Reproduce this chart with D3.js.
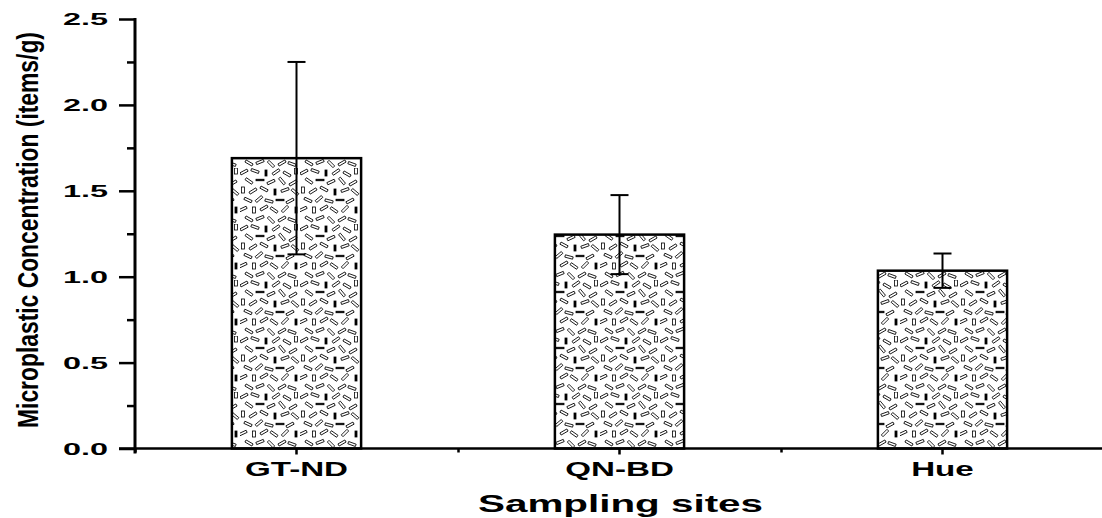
<!DOCTYPE html>
<html lang="en">
<head>
<meta charset="UTF-8">
<script src="https://d3js.org/d3.v7.min.js"></script>
<title>Microplastic Concentration</title>
<style>
  body { margin: 0; background: #fff; }
  text { font-family: "Liberation Sans", Arial, sans-serif; font-weight: bold; fill: #000; }
</style>
</head>
<body>
<svg id="chart" width="1102" height="518"></svg>
<script>
// data
const sites = ["GT-ND", "QN-BD", "Hue"];
const means = [1.69, 1.245, 1.035];
const errors = [0.56, 0.23, 0.1];
const yTicks = [0, 0.5, 1.0, 1.5, 2.0, 2.5];
const yMinorTicks = [0.25, 0.75, 1.25, 1.75, 2.25];

const svg = d3.select("#chart");

const x = d3.scaleBand().domain(sites).range([135, 1104]);
const y = d3.scaleLinear().domain([0, 2.5]).range([448.5, 19]);

// speckled fill (short dashes / little boxes) like the original
const pat = svg.append("defs").append("pattern")
    .attr("id", "speckle")
    .attr("patternUnits", "userSpaceOnUse")
    .attr("width", 60).attr("height", 56);
pat.append("rect").attr("width", 60).attr("height", 56).attr("fill", "#fff");
// [cx, cy, w, h, angle, filled]
const bits = [
    [4, 4, 8, 2.4, -28, false], [15, 3, 8, 2.4, 20, false], [26, 5, 2, 6, 0, true],
    [36, 4, 8, 2.4, -35, false], [47, 6, 8, 2.4, 30, false], [56, 3, 3, 6, 0, false],
    [9, 13, 8, 2.4, 35, false], [20, 12, 8, 1.5, 0, true], [31, 14, 8, 2.4, -25, false],
    [42, 13, 8, 2.4, 50, false], [53, 15, 8, 2.4, -30, false],
    [3, 22, 3, 6, 0, false], [13, 23, 8, 2.4, -32, false], [24, 21, 8, 2.4, 28, false],
    [35, 24, 2, 6, 0, true], [45, 22, 8, 2.4, -20, false], [55, 24, 8, 2.4, 40, false],
    [8, 32, 8, 2.4, 25, false], [19, 31, 8, 2.4, -40, false], [29, 33, 8, 2.4, 15, false],
    [40, 32, 8, 1.5, 0, true], [50, 33, 8, 2.4, -28, false],
    [3, 41, 8, 2.4, -25, false], [14, 42, 3, 6, 0, false], [24, 40, 8, 2.4, -30, false],
    [34, 42, 8, 2.4, 35, false], [45, 41, 8, 2.4, -45, false], [56, 42, 2, 6, 0, true],
    [9, 51, 8, 2.4, 30, false], [20, 50, 8, 2.4, -22, false], [31, 52, 8, 2.4, 45, false],
    [42, 51, 8, 2.4, -30, false], [52, 52, 8, 2.4, 20, false]
];
bits.forEach(b => {
    pat.append("rect")
        .attr("x", -b[2] / 2).attr("y", -b[3] / 2)
        .attr("width", b[2]).attr("height", b[3])
        .attr("transform", `translate(${b[0]},${b[1]}) rotate(${b[4]})`)
        .attr("fill", b[5] ? "#000" : "#fff")
        .attr("stroke", "#000").attr("stroke-width", 0.8);
});

// bars
const bw = x.bandwidth() * 0.4;
svg.selectAll(".bar").data(sites).join("rect")
    .attr("class", "bar")
    .attr("x", d => x(d) + x.bandwidth() / 2 - bw / 2)
    .attr("y", (d, i) => y(means[i]))
    .attr("width", bw)
    .attr("height", (d, i) => y(0) - y(means[i]))
    .attr("fill", "url(#speckle)")
    .attr("stroke", "#000").attr("stroke-width", 2.5);

// error bars
const err = svg.selectAll(".err").data(sites).join("g")
    .attr("class", "err")
    .attr("transform", d => `translate(${x(d) + x.bandwidth() / 2},0)`)
    .attr("stroke", "#000").attr("stroke-width", 2);
err.append("line")
    .attr("y1", (d, i) => y(means[i] - errors[i]))
    .attr("y2", (d, i) => y(means[i] + errors[i]));
err.append("line").attr("x1", -9).attr("x2", 9)
    .attr("y1", (d, i) => y(means[i] + errors[i]))
    .attr("y2", (d, i) => y(means[i] + errors[i]));
err.append("line").attr("x1", -9).attr("x2", 9)
    .attr("y1", (d, i) => y(means[i] - errors[i]))
    .attr("y2", (d, i) => y(means[i] - errors[i]));

// y axis
const yAxis = svg.append("g").attr("transform", "translate(135,0)")
    .call(d3.axisLeft(y).tickValues(yTicks).tickSize(16).tickSizeOuter(0).tickFormat(d3.format(".1f")));
yAxis.select(".domain").remove();
yAxis.selectAll("line").attr("stroke-width", 2.5);
yAxis.selectAll("text")
    .attr("x", -72).attr("dy", "0.36em")
    .attr("text-anchor", "start")
    .attr("textLength", 45).attr("lengthAdjust", "spacingAndGlyphs")
    .style("font-size", "16.5px");

const yMinor = svg.append("g").attr("transform", "translate(135,0)")
    .call(d3.axisLeft(y).tickValues(yMinorTicks).tickSize(8).tickFormat(""));
yMinor.select(".domain").remove();
yMinor.selectAll("line").attr("stroke-width", 2.5);

svg.append("line")
    .attr("x1", 135).attr("x2", 135)
    .attr("y1", y(2.5) - 1).attr("y2", y(0) + 5)
    .attr("stroke", "#000").attr("stroke-width", 3);

// x axis
const xAxis = svg.append("g").attr("transform", `translate(0,${y(0)})`)
    .call(d3.axisBottom(x).tickSize(6).tickSizeOuter(0));
xAxis.select(".domain").remove();
xAxis.selectAll("line").attr("stroke-width", 2.5);
xAxis.selectAll("text")
    .attr("y", 28).attr("dy", 0)
    .attr("transform", "scale(1.7,1)")
    .style("font-size", "19.5px");

const xMinor = svg.append("g").attr("transform", `translate(0,${y(0)})`)
    .call(d3.axisBottom(d3.scalePoint().domain(d3.range(sites.length + 1)).range(x.range()))
        .tickSize(4).tickSizeOuter(0).tickFormat(""));
xMinor.select(".domain").remove();
xMinor.selectAll("line").attr("stroke-width", 2.5);

svg.append("line")
    .attr("x1", 119).attr("x2", 1102)
    .attr("y1", y(0)).attr("y2", y(0))
    .attr("stroke", "#000").attr("stroke-width", 2.5);

// axis titles
svg.append("text")
    .attr("x", 478).attr("y", 512)
    .attr("textLength", 285).attr("lengthAdjust", "spacingAndGlyphs")
    .style("font-size", "24px")
    .text("Sampling sites");

// narrow y title: squeeze along its length with a transform
const yTitle = svg.append("text")
    .attr("text-anchor", "middle")
    .style("font-size", "30px")
    .text("Microplastic Concentration (items/g)");
const squeeze = 396 / yTitle.node().getComputedTextLength();
yTitle.attr("transform", `translate(38,230) rotate(-90) scale(${squeeze},1)`);
</script>
</body>
</html>
